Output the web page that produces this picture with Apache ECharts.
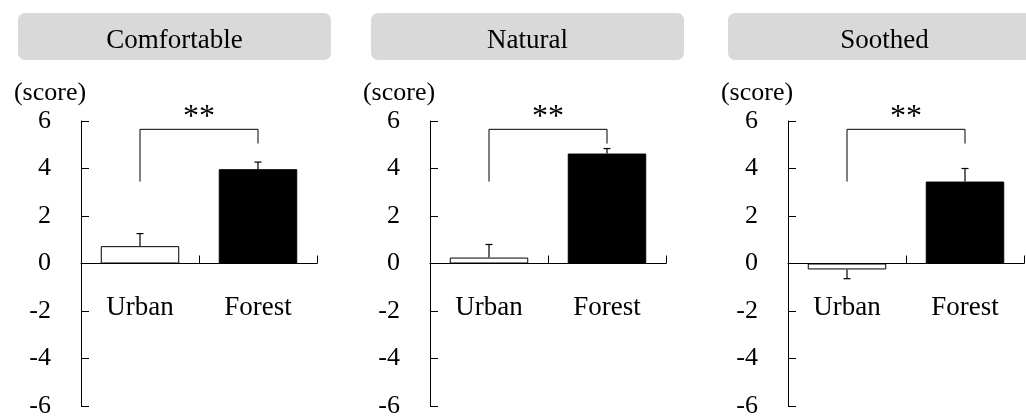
<!DOCTYPE html>
<html>
<head>
<meta charset="utf-8">
<script src="https://cdn.jsdelivr.net/npm/echarts@6/dist/echarts.min.js"></script>
<style>
  html, body { margin: 0; padding: 0; background: #fff; }
  #chart { width: 1026px; height: 416px; }
</style>
</head>
<body>
<div id="chart"></div>
<script>
// ---- data ----
const panelTitles = ['Comfortable', 'Natural', 'Soothed'];
const categories = ['Urban', 'Forest'];
const urbanMean = [0.73, 0.25, -0.25];
const urbanSE = [0.53, 0.55, 0.39];
const forestMean = [3.97, 4.63, 3.45];
const forestSE = [0.30, 0.21, 0.55];
// significance bracket per panel: left leg bottom, bracket top, right leg bottom
const bracketLeft = [3.45, 3.45, 3.45];
const bracketTop = [5.65, 5.65, 5.65];
const bracketRight = [5.05, 5.05, 5.05];
const significance = ['**', '**', '**'];
const yMin = -6, yMax = 6, yStep = 2;
const yUnit = '(score)';

// ---- layout ----
const FONT = '"Liberation Serif", "Times New Roman", serif';
const gridLefts = [81, 430, 788];
const gridWidth = 236, gridTop = 121, gridHeight = 285;
const boxLefts = [18, 371, 728];
const boxWidth = 313, boxTop = 13, boxHeight = 47;
// the category axis (line, ticks and labels) sits on the zero line of the value axis
const zeroOffset = -gridHeight * (0 - yMin) / (yMax - yMin);

const chart = echarts.init(document.getElementById('chart'), null, { renderer: 'canvas' });

const grids = [], xAxes = [], yAxes = [], series = [], graphics = [];

panelTitles.forEach((title, i) => {
  grids.push({ left: gridLefts[i], top: gridTop, width: gridWidth, height: gridHeight,
               containLabel: false, outerBoundsMode: 'none' });

  xAxes.push({
    type: 'category', gridIndex: i, data: categories, position: 'bottom', offset: zeroOffset,
    axisLine: { onZero: false, lineStyle: { color: '#000', width: 1 } },
    axisTick: { show: true, inside: true, length: 8, lineStyle: { color: '#000' } },
    axisLabel: { color: '#000', fontFamily: FONT, fontSize: 27, margin: 31, verticalAlign: 'top' },
    splitLine: { show: false }
  });

  yAxes.push({
    type: 'value', gridIndex: i, min: yMin, max: yMax, interval: yStep,
    axisLine: { show: true, onZero: false, lineStyle: { color: '#000', width: 1 } },
    axisTick: { show: true, inside: true, length: 8, lineStyle: { color: '#000' } },
    axisLabel: { color: '#000', fontFamily: FONT, fontSize: 26, margin: 30 },
    splitLine: { show: false }
  });

  // bars
  series.push({
    type: 'bar', xAxisIndex: i, yAxisIndex: i, barWidth: '66.5%',
    silent: true, animation: false,
    data: [
      { value: urbanMean[i], itemStyle: { color: '#fff', borderColor: '#000', borderWidth: 1 } },
      { value: forestMean[i], itemStyle: { color: '#000', borderColor: '#000', borderWidth: 1 } }
    ]
  });

  // one-sided error bars
  series.push({
    type: 'custom', xAxisIndex: i, yAxisIndex: i, silent: true, animation: false, z: 3,
    data: [[0, urbanMean[i], urbanSE[i]], [1, forestMean[i], forestSE[i]]],
    encode: { x: 0, y: 1 },
    renderItem(params, api) {
      const m = api.value(1), e = api.value(2);
      const end = m >= 0 ? m + e : m - e;
      const p0 = api.coord([api.value(0), m]);
      const p1 = api.coord([api.value(0), end]);
      const cap = 3.5;
      const style = { stroke: '#000', lineWidth: 1.2, fill: null };
      return {
        type: 'group',
        children: [
          { type: 'line', shape: { x1: p0[0], y1: p0[1], x2: p1[0], y2: p1[1] }, style },
          { type: 'line', shape: { x1: p1[0] - cap, y1: p1[1], x2: p1[0] + cap, y2: p1[1] }, style }
        ]
      };
    }
  });

  // significance bracket
  series.push({
    type: 'custom', xAxisIndex: i, yAxisIndex: i, silent: true, animation: false, z: 3,
    data: [[0, bracketTop[i], bracketLeft[i], 1, bracketRight[i]]],
    encode: { x: 0, y: 1 },
    renderItem(params, api) {
      const top = api.value(1);
      const a = api.coord([api.value(0), api.value(2)]);
      const b = api.coord([api.value(0), top]);
      const c = api.coord([api.value(3), top]);
      const d = api.coord([api.value(3), api.value(4)]);
      return {
        type: 'group',
        children: [
          { type: 'polyline', shape: { points: [a, b, c, d] }, style: { stroke: '#000', lineWidth: 1, fill: null } },
          { type: 'text', x: (b[0] + c[0]) / 2, y: b[1] + 4,
            style: { text: significance[i], fill: '#000', font: '32px ' + FONT, align: 'center', verticalAlign: 'bottom' } }
        ]
      };
    }
  });

  // panel header box
  graphics.push({
    type: 'rect', silent: true, z: 0,
    shape: { x: boxLefts[i], y: boxTop, width: boxWidth, height: boxHeight, r: 7 },
    style: { fill: '#d9d9d9' }
  });
  graphics.push({
    type: 'text', silent: true, z: 1,
    x: boxLefts[i] + boxWidth / 2, y: boxTop + boxHeight / 2 + 4,
    style: { text: title, fill: '#000', font: '27px ' + FONT, align: 'center', verticalAlign: 'middle' }
  });
  // unit label above the value axis
  graphics.push({
    type: 'text', silent: true, z: 1,
    x: gridLefts[i] - 31, y: 93,
    style: { text: yUnit, fill: '#000', font: '26px ' + FONT, align: 'center', verticalAlign: 'middle' }
  });
});

chart.setOption({
  backgroundColor: '#fff',
  animation: false,
  grid: grids,
  xAxis: xAxes,
  yAxis: yAxes,
  series: series,
  graphic: graphics
});
</script>
</body>
</html>
